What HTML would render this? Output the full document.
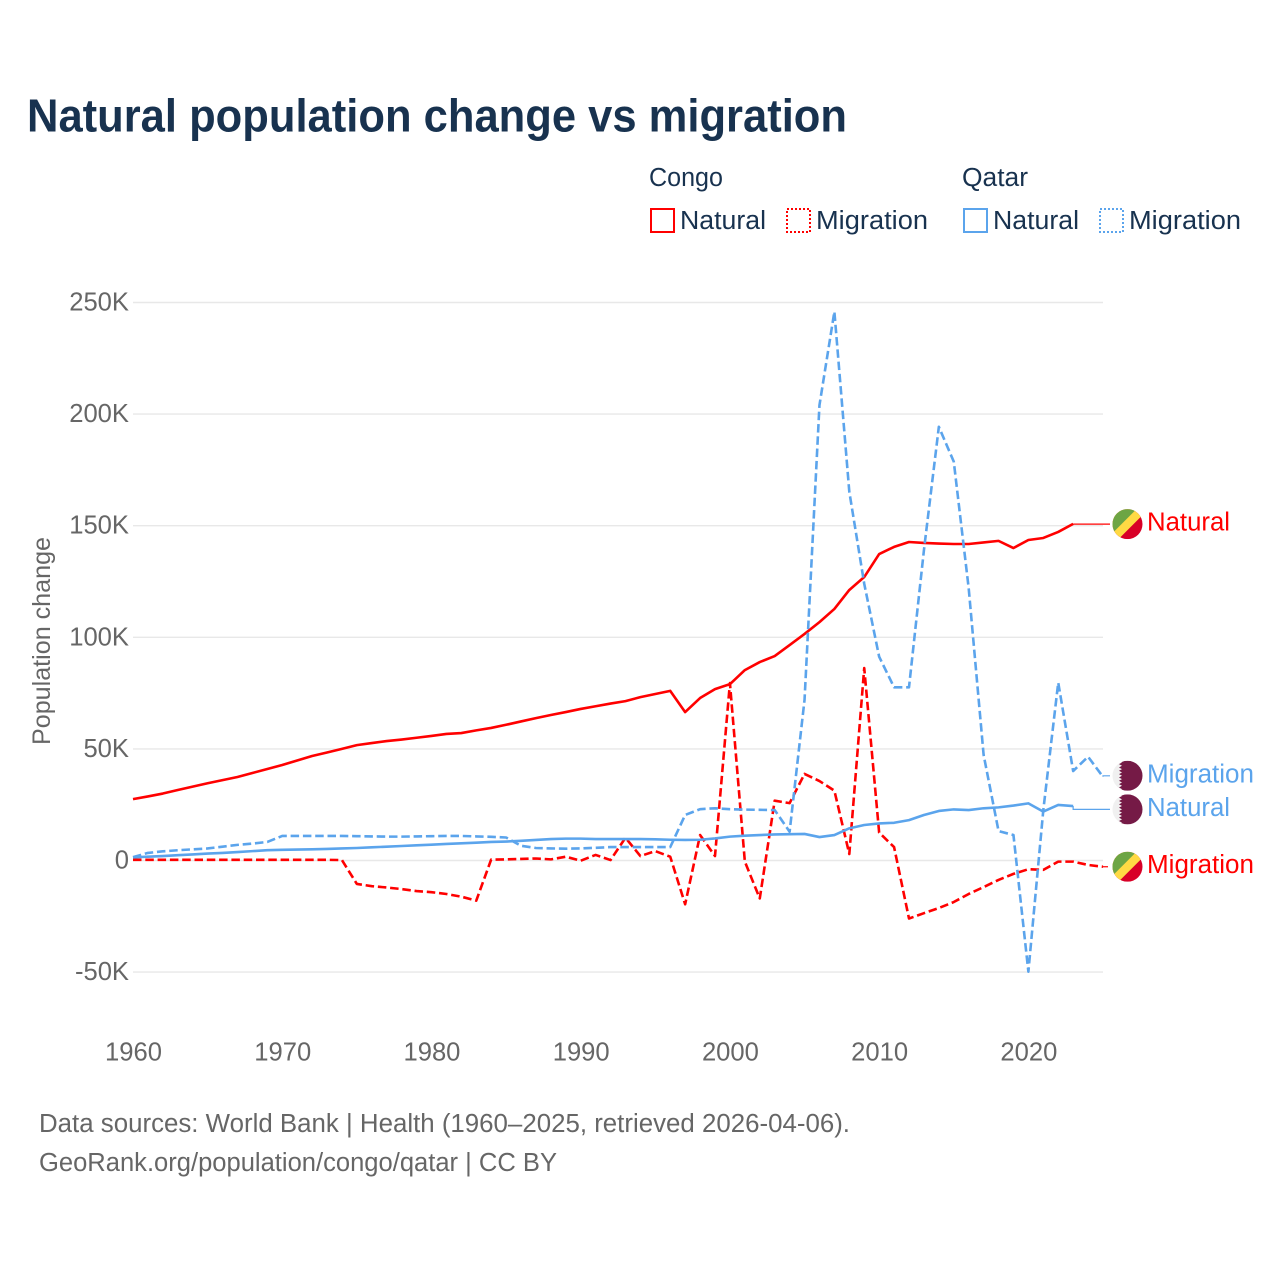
<!DOCTYPE html>
<html lang="en">
<head>
<meta charset="utf-8">
<title>Natural population change vs migration</title>
<style>
html,body{margin:0;padding:0;background:#fff;width:1280px;height:1280px;overflow:hidden}
svg{display:block}
text{font-family:"Liberation Sans",sans-serif}
</style>
</head>
<body>
<svg id="chart" xmlns="http://www.w3.org/2000/svg" width="1280" height="1280" viewBox="0 0 1280 1280">
  <rect width="1280" height="1280" fill="#ffffff"/>
  <text x="27" y="131.5" font-size="46" font-weight="700" fill="#18324f" textLength="820" lengthAdjust="spacingAndGlyphs">Natural population change vs migration</text>

  <g font-size="25.5" fill="#18324f">
    <text x="649" y="186" textLength="74" lengthAdjust="spacingAndGlyphs">Congo</text>
    <text x="962" y="186" textLength="66" lengthAdjust="spacingAndGlyphs">Qatar</text>
    <rect x="651" y="209" width="23" height="23" fill="none" stroke="#ff0000" stroke-width="2"/>
    <text x="680" y="229" textLength="86" lengthAdjust="spacingAndGlyphs">Natural</text>
    <rect x="787" y="209" width="23" height="23" fill="none" stroke="#ff0000" stroke-width="2" stroke-dasharray="2 2"/>
    <text x="816" y="229" textLength="112" lengthAdjust="spacingAndGlyphs">Migration</text>
    <rect x="964" y="209" width="23" height="23" fill="none" stroke="#5ba4ec" stroke-width="2"/>
    <text x="993" y="229" textLength="86" lengthAdjust="spacingAndGlyphs">Natural</text>
    <rect x="1100" y="209" width="23" height="23" fill="none" stroke="#5ba4ec" stroke-width="2" stroke-dasharray="2 2"/>
    <text x="1129" y="229" textLength="112" lengthAdjust="spacingAndGlyphs">Migration</text>
  </g>

  <g id="grid"></g>
  <g id="yticks"></g>
  <g id="xticks"></g>
  <text transform="translate(50,641) rotate(-90)" text-anchor="middle" font-size="25" fill="#666666" textLength="208" lengthAdjust="spacingAndGlyphs">Population change</text>
  <g id="series"></g>
  <g id="endlabels"></g>

  <text x="39" y="1132" font-size="25.5" fill="#666666" textLength="811" lengthAdjust="spacingAndGlyphs">Data sources: World Bank | Health (1960–2025, retrieved 2026-04-06).</text>
  <text x="39" y="1171" font-size="25.5" fill="#666666" textLength="518" lengthAdjust="spacingAndGlyphs">GeoRank.org/population/congo/qatar | CC BY</text>
</svg>

<script>
const startYear = 1960;
const endYear = 2025;
const xTickYears = [1960, 1970, 1980, 1990, 2000, 2010, 2020];
const yTickValues = [-50, 0, 50, 100, 150, 200, 250];
const yTickLabels = ['-50K', '0', '50K', '100K', '150K', '200K', '250K'];

// Values in thousands, one per year beginning 1960
const congoNatural = [27.5,28.7,30,31.6,33.1,34.6,36,37.4,39.2,41,42.8,44.8,46.8,48.4,50,51.7,52.6,53.5,54.2,55,55.8,56.7,57.1,58.3,59.4,60.8,62.3,63.8,65.2,66.5,67.9,69.1,70.3,71.4,73.2,74.6,76,66.5,72.8,76.8,79,85.3,88.9,91.6,96.5,101.5,106.8,112.7,121.2,127,137.3,140.5,142.7,142.3,142,141.8,141.8,142.5,143.2,140,143.6,144.5,147.2,150.8];
const congoMigration = [0.3,0.3,0.3,0.3,0.3,0.3,0.3,0.3,0.3,0.3,0.3,0.3,0.3,0.3,0.2,-10.5,-11.5,-12.1,-12.8,-13.7,-14.2,-15,-16.2,-18,0.4,0.5,0.7,0.9,0.5,1.7,-0.1,2.5,0.2,10.2,2,4.2,1.7,-19.6,11.4,2,79.5,-0.5,-17,26.8,25.7,38.8,35.6,31.3,2.9,86.2,12.5,6,-26,-23.6,-21.3,-18.6,-15,-11.9,-8.7,-6,-3.9,-4.2,-0.5,-0.5,-2,-2.8];
const qatarNatural = [1.4,1.7,2,2.4,2.7,3.1,3.4,3.8,4.2,4.6,4.8,4.9,5,5.2,5.4,5.6,5.9,6.2,6.5,6.8,7.1,7.4,7.7,8,8.3,8.5,8.8,9.2,9.6,9.8,9.8,9.6,9.6,9.6,9.6,9.5,9.3,9.2,9.3,9.9,10.7,11.1,11.4,11.7,11.8,11.9,10.5,11.4,14.4,15.9,16.6,16.9,18.1,20.4,22.2,22.9,22.6,23.4,23.8,24.6,25.6,21.9,24.9,24.4];
const qatarMigration = [1.5,3.4,4.1,4.6,5,5.4,6.2,7,7.6,8.3,11,11,11,11,11,10.9,10.8,10.7,10.7,10.8,10.9,11,11,10.8,10.6,10.3,6.6,5.6,5.4,5.3,5.4,5.7,6,6,6,6,6,20.4,23,23.4,23,22.8,22.7,22.6,12.9,72,204,245.9,165.2,124,91.3,77.6,77.6,139,194.3,178.7,122,47.3,13.2,11.4,-49.8,22.6,79.7,40.1,46.5,37.5];

const svgNS = 'http://www.w3.org/2000/svg';
const plotLeft = 133;
const plotRight = 1103;
const zeroY = 860.5;
const pxPerThousand = 2.232;
const connectorEnd = 1110;
const flagX = 1127.5;
const labelX = 1147;

function xScale(year) {
  return plotLeft + (year - startYear) * (plotRight - plotLeft) / (endYear - startYear);
}
function yScale(value) {
  return zeroY - value * pxPerThousand;
}
function make(tag, attrs, parent) {
  const el = document.createElementNS(svgNS, tag);
  for (const k in attrs) el.setAttribute(k, attrs[k]);
  parent.appendChild(el);
  return el;
}

const grid = document.getElementById('grid');
const yticks = document.getElementById('yticks');
const xticks = document.getElementById('xticks');
const seriesGroup = document.getElementById('series');
const endLabels = document.getElementById('endlabels');

yTickValues.forEach(function (v, i) {
  const line = make('line', {x1: plotLeft, x2: plotRight, y1: yScale(v), y2: yScale(v), stroke: '#e8e8e8', 'stroke-width': 1.4}, grid);
  
  
  const t = make('text', {x: 129, y: yScale(v) + 8, 'text-anchor': 'end', 'font-size': 25.6, fill: '#666666'}, yticks);
  
  
  t.textContent = yTickLabels[i];
});

xTickYears.forEach(function (yr) {
  const t = make('text', {x: xScale(yr) + 0.5, y: 1060.5, 'text-anchor': 'middle', 'font-size': 25.6, fill: '#666666'}, xticks);
  
  
  t.textContent = String(yr);
});

function drawSeries(values, color, dashed, name) {
  const pts = values.map(function (v, i) {
    return xScale(startYear + i).toFixed(2) + ',' + yScale(v).toFixed(2);
  }).join(' ');
  const line = make('polyline', {points: pts, fill: 'none', stroke: color, 'stroke-width': 2.6, 'stroke-linejoin': 'round'}, seriesGroup);
  if (dashed) line.setAttribute('stroke-dasharray', '8.5 3.8');
  
  
}

drawSeries(congoNatural, '#ff0000', false, 'line-congo-natural');
drawSeries(congoMigration, '#ff0000', true, 'line-congo-migration');
drawSeries(qatarNatural, '#5ba4ec', false, 'line-qatar-natural');
drawSeries(qatarMigration, '#5ba4ec', true, 'line-qatar-migration');

function drawCongoFlag(cy, clipId, parent) {
  const g = make('g', {transform: 'translate(' + flagX + ',' + cy + ')'}, parent);
  
  
  const defs = make('defs', {}, g);
  const clip = make('clipPath', {id: clipId}, defs);
  make('circle', {r: 15}, clip);
  const inner = make('g', {'clip-path': 'url(#' + clipId + ')'}, g);
  make('rect', {x: -15, y: -15, width: 30, height: 30, fill: '#d80027'}, inner);
  make('polygon', {points: '-15,-15 15,-15 15,-9 -9,15 -15,15', fill: '#ffda44'}, inner);
  make('polygon', {points: '-15,-15 9,-15 -15,9', fill: '#6da544'}, inner);
}

function drawQatarFlag(cy, clipId, parent) {
  const g = make('g', {transform: 'translate(' + flagX + ',' + cy + ')'}, parent);
  
  
  const defs = make('defs', {}, g);
  const clip = make('clipPath', {id: clipId}, defs);
  make('circle', {r: 15}, clip);
  const inner = make('g', {'clip-path': 'url(#' + clipId + ')'}, g);
  make('rect', {x: -15, y: -15, width: 30, height: 30, fill: '#f0f0f0'}, inner);
  let d = 'M15,-15 L-8.5,-15';
  for (let i = 0; i < 9; i++) {
    const top = -15 + i * 10 / 3;
    d += ' L-5.5,' + (top + 5 / 3) + ' L-8.5,' + (top + 10 / 3);
  }
  d += ' L15,15 Z';
  make('path', {d: d, fill: '#751a46'}, inner);
}

function drawEnd(values, nudge, color, dashed, text, flag, clipId, name, textWidth) {
  const lastIndex = values.length - 1;
  const lx = xScale(startYear + lastIndex);
  const ly = yScale(values[lastIndex]);
  const cy = ly + nudge;
  const conn = make('path', {d: 'M' + lx + ',' + ly + ' L' + lx + ',' + cy + ' L' + connectorEnd + ',' + cy, fill: 'none', stroke: color, 'stroke-width': 1.2}, endLabels);
  if (dashed) conn.setAttribute('stroke-dasharray', '5 2');
  
  
  flag(cy, clipId, endLabels);
  const t = make('text', {x: labelX, y: cy + 6.5, 'font-size': 25.5, fill: color, textLength: textWidth, lengthAdjust: 'spacingAndGlyphs'}, endLabels);
  
  
  t.textContent = text;
}

drawEnd(congoNatural, 0.2, '#ff0000', false, 'Natural', drawCongoFlag, 'clip-c1', 'congo-natural', 83);
drawEnd(congoMigration, 0, '#ff0000', true, 'Migration', drawCongoFlag, 'clip-c2', 'congo-migration', 107);
drawEnd(qatarNatural, 3.3, '#5ba4ec', false, 'Natural', drawQatarFlag, 'clip-q1', 'qatar-natural', 83);
drawEnd(qatarMigration, -1, '#5ba4ec', false, 'Migration', drawQatarFlag, 'clip-q2', 'qatar-migration', 107);
</script>
</body>
</html>
